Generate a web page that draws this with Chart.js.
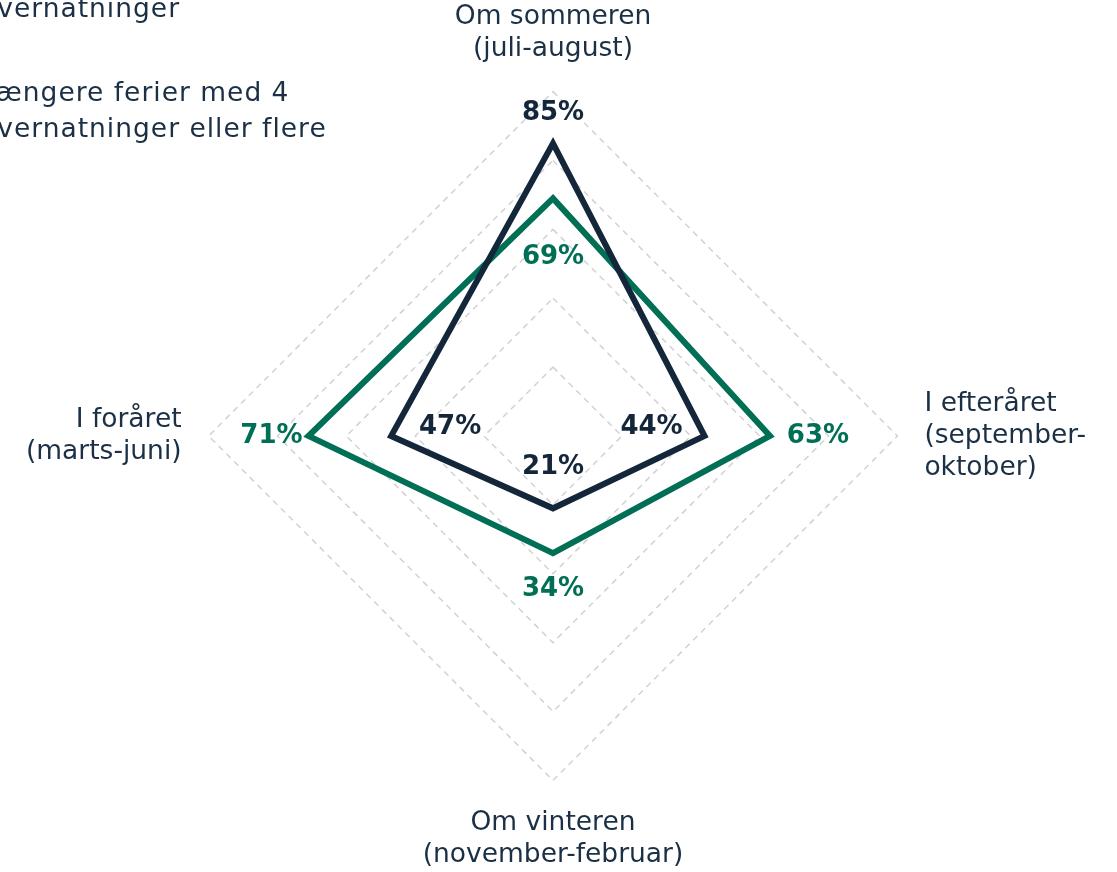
<!DOCTYPE html>
<html lang="da">
<head>
<meta charset="utf-8">
<title>Ferier fordelt på årstider</title>
<script src="https://cdn.jsdelivr.net/npm/chart.js@4.4.1/dist/chart.umd.min.js"></script>
<style>
  html, body { margin: 0; padding: 0; background: #fff; overflow: hidden; }
  .wrap { position: relative; width: 1117px; height: 872px; overflow: hidden; }
  .legend {
    position: absolutely; position: absolute; left: -72px; top: -46px;
    font-family: "DejaVu Sans", sans-serif; font-size: 26.5px; line-height: 36px;
    letter-spacing: 1px; color: #1b3045;
  }
  .legend .item { display: flex; align-items: flex-start; margin-bottom: 48px; }
  .legend .swatch { width: 36px; height: 6px; margin: 15px 16px 0 0; flex: none; }
</style>
</head>
<body>
<div class="wrap">
  <canvas id="seasonChart"></canvas>
  <div class="legend" id="seasonLegend"></div>
</div>
<script>
// Ferier fordelt på årstider (radar)
const seasons = [
  ['Om sommeren', '(juli-august)'],
  ['I efteråret', '(september-', 'oktober)'],
  ['Om vinteren', '(november-februar)'],
  ['I foråret', '(marts-juni)']
]
const seriesNames = [
  ['Kortere ferier med 1-3', 'overnatninger'],
  ['Længere ferier med 4', 'overnatninger eller flere']
]
const shortTrips = [85, 44, 21, 47]
const longTrips = [69, 63, 34, 71]
const seriesColors = ['#13263a', '#006f55']

const labelColor = '#1b3045'
const fontFamily = '"DejaVu Sans", sans-serif'

// distance (px) from the vertex to the centre of its % label, per axis
const gapOutside = [30, 48, 36, 37]
const gapInside = [59, 53, 41, 59]

// Legend (the reference has it cropped at the top-left corner)
const legendEl = document.getElementById('seasonLegend')
legendEl.innerHTML = seriesNames.map((lines, i) =>
  `<div class="item"><span class="swatch" style="background:${seriesColors[i]}"></span><span>${lines.join('<br>')}</span></div>`
).join('')

// Percent labels: the larger value at each axis goes outside, the other inside
const valueLabels = {
  id: 'valueLabels',
  afterDatasetsDraw(chart) {
    const scale = chart.scales.r
    const ctx = chart.ctx
    ctx.save()
    ctx.font = 'bold 26px ' + fontFamily
    ctx.textAlign = 'center'
    ctx.textBaseline = 'middle'
    chart.data.datasets.forEach((ds) => {
      ds.data.forEach((v, i) => {
        const others = chart.data.datasets.map(d => d.data[i])
        const outside = v === Math.max(...others)
        const p = scale.getPointPositionForValue(i, v)
        const dx = p.x - scale.xCenter
        const dy = p.y - scale.yCenter
        const len = Math.hypot(dx, dy) || 1
        const dist = outside ? gapOutside[i] : -gapInside[i]
        let y = p.y + dy / len * dist
        if (!outside && Math.abs(dx) > Math.abs(dy)) y -= 9
        ctx.fillStyle = ds.borderColor
        ctx.fillText(v + '%', p.x + dx / len * dist, y)
      })
    })
    ctx.restore()
  }
}

// eslint-disable-next-line no-undef
new Chart(document.getElementById('seasonChart').getContext('2d'), {
  type: 'radar',
  data: {
    labels: seasons,
    datasets: [
      {
        label: seriesNames[0].join(' '),
        data: shortTrips,
        borderColor: seriesColors[0],
        backgroundColor: 'transparent',
        borderWidth: 6,
        borderJoinStyle: 'miter',
        pointRadius: 0,
        fill: false
      },
      {
        label: seriesNames[1].join(' '),
        data: longTrips,
        borderColor: seriesColors[1],
        backgroundColor: 'transparent',
        borderWidth: 6,
        borderJoinStyle: 'miter',
        pointRadius: 0,
        fill: false
      }
    ]
  },
  options: {
    responsive: true,
    maintainAspectRatio: false,
    animation: false,
    layout: { padding: { top: 2, bottom: -2, left: 0, right: 4 } },
    plugins: {
      legend: { display: false },
      tooltip: { enabled: false }
    },
    scales: {
      r: {
        min: 0,
        max: 100,
        ticks: { display: false, stepSize: 20 },
        angleLines: { display: false },
        grid: { color: '#d2d2d2', lineWidth: 1.5 },
        border: { dash: [6, 5] },
        pointLabels: {
          color: labelColor,
          padding: 27,
          font: { family: fontFamily, size: 26.5, lineHeight: 1.2 }
        }
      }
    }
  },
  plugins: [valueLabels]
})
</script>
</body>
</html>
